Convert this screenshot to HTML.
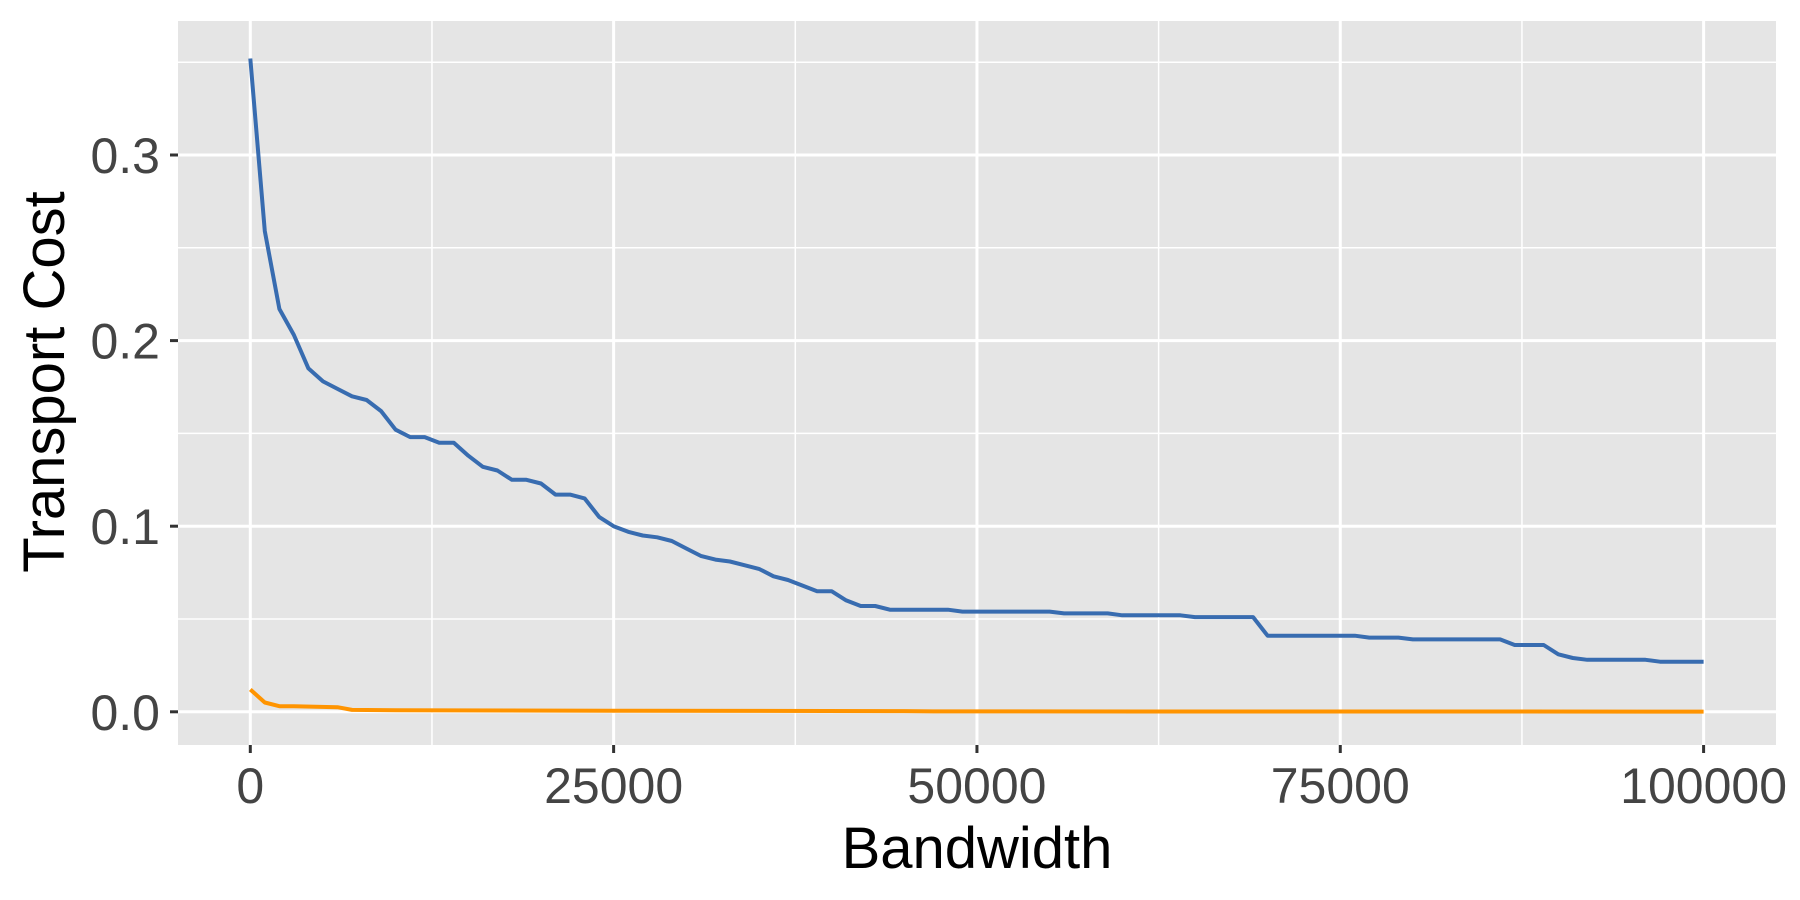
<!DOCTYPE html>
<html><head><meta charset="utf-8"><style>
html,body{margin:0;padding:0;background:#fff;}
svg{display:block;font-family:"Liberation Sans",sans-serif;}
</style></head>
<body>
<svg id="chart" width="1800" height="900" viewBox="0 0 1800 900">
<rect x="178" y="21" width="1598" height="724" fill="#e5e5e5"/>
<g id="grid"></g>
<g id="series"></g>
<g id="axes"></g>
<text x="977" y="868" font-size="58" text-anchor="middle" fill="#000">Bandwidth</text>
<text transform="translate(64,382) rotate(-90)" font-size="58" text-anchor="middle" fill="#000">Transport Cost</text>
</svg>
<script>
const xTicks = [0, 25000, 50000, 75000, 100000];
const xTickLabels = ["0", "25000", "50000", "75000", "100000"];
const yTicks = [0, 0.1, 0.2, 0.3];
const yTickLabels = ["0.0", "0.1", "0.2", "0.3"];
const blueX = [0,1000,2000,3000,4000,5000,6000,7000,8000,9000,10000,11000,12000,13000,14000,15000,16000,17000,18000,19000,20000,21000,22000,23000,24000,25000,26000,27000,28000,29000,30000,31000,32000,33000,34000,35000,36000,37000,38000,39000,40000,41000,42000,43000,44000,48000,49000,55000,56000,59000,60000,64000,65000,69000,70000,76000,77000,79000,80000,86000,87000,89000,90000,91000,92000,96000,97000,100000];
const blueY = [0.352,0.259,0.217,0.203,0.185,0.178,0.174,0.170,0.168,0.162,0.152,0.148,0.148,0.145,0.145,0.138,0.132,0.130,0.125,0.125,0.123,0.117,0.117,0.115,0.105,0.100,0.097,0.095,0.094,0.092,0.088,0.084,0.082,0.081,0.079,0.077,0.073,0.071,0.068,0.065,0.065,0.060,0.057,0.057,0.055,0.055,0.054,0.054,0.053,0.053,0.052,0.052,0.051,0.051,0.041,0.041,0.040,0.040,0.039,0.039,0.036,0.036,0.031,0.029,0.028,0.028,0.027,0.027];
const orangeX = [0,1000,2000,3000,6000,7000,10000,25000,45000,47000,100000];
const orangeY = [0.012,0.005,0.003,0.003,0.0025,0.001,0.0008,0.0006,0.0004,0.0002,0.0001];

const NS = "http://www.w3.org/2000/svg";
const X0 = 250.3, X1 = 1703.6, Y0 = 711.8, PER = 1856;
function sx(v){ return X0 + (X1 - X0) * v / 100000; }
function sy(v){ return Y0 - PER * v; }
function mk(tag, attrs, parent){ const e = document.createElementNS(NS, tag); for (const k in attrs) e.setAttribute(k, attrs[k]); parent.appendChild(e); return e; }

const grid = document.getElementById('grid');
for (let v = 0.05; v < 0.36; v += 0.1) {
  const l = mk('line', {x1:178, x2:1776, y1:sy(v), y2:sy(v), stroke:'#fff', 'stroke-width':1.5}, grid);
  
  
}
for (let v = 12500; v < 100000; v += 25000) {
  const l = mk('line', {x1:sx(v), x2:sx(v), y1:21, y2:745, stroke:'#fff', 'stroke-width':1.5}, grid);
  
  
}
const axes = document.getElementById('axes');
yTicks.forEach((v, i) => {
  const l = mk('line', {x1:178, x2:1776, y1:sy(v), y2:sy(v), stroke:'#fff', 'stroke-width':3}, grid);
  
  
  const t = mk('line', {x1:170, x2:178, y1:sy(v), y2:sy(v), stroke:'#333', 'stroke-width':3}, axes);
  
  
  const tx = mk('text', {x:160, y:sy(v) + 18, 'font-size':50, 'text-anchor':'end', fill:'#444'}, axes);
  tx.textContent = yTickLabels[i];
  
  
});
xTicks.forEach((v, i) => {
  const l = mk('line', {x1:sx(v), x2:sx(v), y1:21, y2:745, stroke:'#fff', 'stroke-width':3}, grid);
  
  
  const t = mk('line', {x1:sx(v), x2:sx(v), y1:745, y2:753, stroke:'#333', 'stroke-width':3}, axes);
  
  
  const tx = mk('text', {x:sx(v), y:803, 'font-size':50, 'text-anchor':'middle', fill:'#444'}, axes);
  tx.textContent = xTickLabels[i];
  
  
});
const series = document.getElementById('series');
function pts(xs, ys){ return xs.map((x, i) => sx(x).toFixed(1) + ',' + sy(ys[i]).toFixed(1)).join(' '); }
const b = mk('polyline', {points:pts(blueX, blueY), fill:'none', stroke:'#386cb0', 'stroke-width':4, 'stroke-linejoin':'round'}, series);


const o = mk('polyline', {points:pts(orangeX, orangeY), fill:'none', stroke:'#ff9400', 'stroke-width':4, 'stroke-linejoin':'round'}, series);


</script>
</body></html>
